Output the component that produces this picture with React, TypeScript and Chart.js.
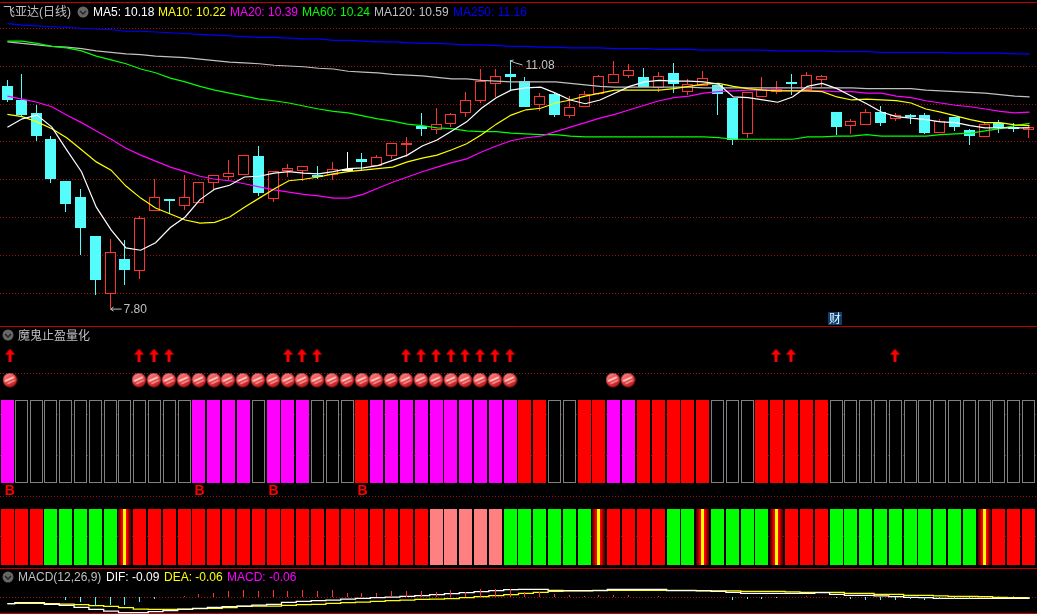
import React, { useEffect, useRef } from "react";
import { Chart, registerables } from "chart.js";

Chart.register(...registerables);

const labels: string[] = Array.from({ length: 70 }, (_, i) => String(i + 1));

const opens = [10.73,10.55,10.38,10.03,9.48,9.27,8.75,7.98,8.44,8.28,9.08,9.24,9.15,9.19,9.45,9.53,9.56,9.81,9.24,9.61,9.61,9.56,9.56,9.64,9.77,9.68,9.81,9.95,10.21,10.15,10.23,10.38,10.54,10.76,10.89,10.80,10.48,10.63,10.34,10.46,10.63,10.77,10.87,10.85,10.71,10.91,10.66,10.73,10.75,10.58,10.10,10.59,10.66,10.79,10.68,10.81,10.39,10.21,10.22,10.39,10.30,10.35,10.35,10.11,10.33,10.15,10.06,10.25,10.19,10.15];
const closes = [10.55,10.35,10.07,9.50,9.17,8.86,8.17,8.54,8.30,8.99,9.27,9.23,9.27,9.46,9.56,9.58,9.82,9.32,9.61,9.65,9.68,9.54,9.64,9.64,9.73,9.79,9.98,9.98,10.17,10.23,10.36,10.55,10.80,10.87,10.85,10.46,10.60,10.35,10.46,10.63,10.87,10.89,10.95,10.72,10.87,10.76,10.76,10.84,10.63,10.02,10.66,10.70,10.70,10.77,10.88,10.87,10.19,10.27,10.39,10.25,10.35,10.34,10.11,10.27,10.19,10.07,10.23,10.18,10.18,10.19];
const highs = [10.81,10.89,10.48,10.07,9.48,9.37,8.75,8.71,8.70,9.01,9.50,9.24,9.56,9.46,9.56,9.75,9.82,9.94,9.61,9.70,9.68,9.68,9.73,9.86,9.85,9.82,9.98,10.06,10.38,10.44,10.38,10.66,10.96,10.96,11.08,10.85,10.64,10.66,10.60,10.67,10.88,11.07,11.03,10.97,10.92,11.04,10.83,10.93,10.75,10.58,10.66,10.85,10.80,10.89,10.92,10.88,10.39,10.30,10.43,10.47,10.38,10.36,10.38,10.30,10.33,10.17,10.26,10.29,10.25,10.22];
const lows = [10.52,10.34,10.00,9.45,9.07,8.50,7.97,7.80,8.10,8.18,9.08,9.04,9.09,9.19,9.36,9.49,9.56,9.28,9.20,9.53,9.48,9.50,9.49,9.62,9.62,9.68,9.77,9.79,10.07,10.10,10.19,10.33,10.51,10.59,10.67,10.46,10.40,10.33,10.31,10.46,10.62,10.77,10.84,10.72,10.66,10.64,10.62,10.73,10.35,9.95,10.05,10.59,10.63,10.62,10.68,10.72,10.09,10.10,10.22,10.21,10.27,10.23,10.10,10.11,10.14,9.95,10.06,10.11,10.13,10.05];

const ma5 = [10.19,10.30,10.35,10.19,9.89,9.60,9.13,8.83,8.59,8.56,8.66,8.86,9.00,9.23,9.37,9.42,9.53,9.54,9.58,9.60,9.58,9.57,9.60,9.64,9.65,9.68,9.75,9.82,9.94,10.02,10.14,10.26,10.44,10.58,10.68,10.71,10.72,10.64,10.55,10.50,10.55,10.64,10.73,10.79,10.81,10.80,10.80,10.79,10.76,10.59,10.58,10.55,10.52,10.59,10.73,10.77,10.70,10.60,10.50,10.39,10.33,10.31,10.29,10.26,10.25,10.21,10.18,10.18,10.18,10.18];
const ma10 = [10.36,10.33,10.26,10.17,10.05,9.89,9.73,9.62,9.41,9.25,9.12,9.04,8.96,8.92,8.93,9.00,9.13,9.25,9.37,9.48,9.50,9.53,9.57,9.60,9.62,9.64,9.66,9.73,9.78,9.82,9.89,9.97,10.09,10.23,10.35,10.42,10.44,10.51,10.55,10.60,10.64,10.68,10.68,10.68,10.68,10.70,10.73,10.76,10.77,10.73,10.70,10.68,10.67,10.67,10.67,10.66,10.59,10.55,10.56,10.55,10.54,10.51,10.43,10.39,10.34,10.29,10.25,10.25,10.22,10.21];
const ma20 = [10.60,10.56,10.52,10.46,10.35,10.25,10.14,10.03,9.91,9.82,9.74,9.66,9.60,9.54,9.50,9.48,9.44,9.40,9.36,9.33,9.30,9.28,9.25,9.25,9.30,9.38,9.46,9.53,9.60,9.66,9.72,9.77,9.86,9.94,10.01,10.05,10.07,10.13,10.19,10.25,10.31,10.36,10.42,10.48,10.54,10.58,10.60,10.64,10.66,10.67,10.68,10.68,10.68,10.67,10.67,10.67,10.66,10.66,10.64,10.64,10.60,10.58,10.54,10.51,10.48,10.46,10.43,10.40,10.38,10.39];
const ma60 = [11.33,11.33,11.30,11.26,11.24,11.20,11.13,11.08,11.03,10.96,10.91,10.84,10.79,10.73,10.68,10.64,10.60,10.56,10.54,10.51,10.47,10.43,10.40,10.38,10.34,10.30,10.27,10.23,10.21,10.18,10.17,10.14,10.13,10.13,10.11,10.10,10.09,10.09,10.07,10.06,10.06,10.06,10.06,10.06,10.06,10.06,10.06,10.06,10.05,10.03,10.03,10.03,10.03,10.03,10.06,10.06,10.07,10.07,10.09,10.07,10.07,10.07,10.07,10.09,10.10,10.11,10.14,10.17,10.21,10.24];
const ma120 = [11.32,11.30,11.28,11.26,11.25,11.23,11.20,11.18,11.16,11.15,11.13,11.12,11.11,11.09,11.07,11.05,11.04,11.03,11.01,11.00,10.99,10.97,10.96,10.93,10.92,10.91,10.89,10.88,10.87,10.85,10.83,10.83,10.81,10.80,10.79,10.79,10.79,10.79,10.77,10.75,10.73,10.72,10.72,10.72,10.72,10.72,10.72,10.71,10.71,10.71,10.71,10.71,10.71,10.71,10.71,10.71,10.71,10.71,10.70,10.70,10.70,10.70,10.68,10.67,10.66,10.65,10.64,10.62,10.60,10.59];
const ma250 = [11.56,11.54,11.53,11.52,11.51,11.50,11.49,11.48,11.46,11.46,11.45,11.44,11.43,11.42,11.41,11.40,11.39,11.38,11.38,11.37,11.36,11.36,11.34,11.34,11.33,11.32,11.32,11.31,11.30,11.30,11.29,11.28,11.28,11.27,11.26,11.26,11.25,11.25,11.24,11.24,11.24,11.23,11.23,11.23,11.22,11.22,11.22,11.21,11.21,11.21,11.21,11.21,11.20,11.20,11.20,11.20,11.19,11.19,11.19,11.18,11.18,11.18,11.18,11.18,11.17,11.17,11.17,11.17,11.16,11.16];

const dif = [-0.36,-0.31,-0.31,-0.39,-0.44,-0.54,-0.64,-0.73,-0.81,-0.81,-0.76,-0.71,-0.64,-0.59,-0.54,-0.51,-0.48,-0.43,-0.39,-0.29,-0.24,-0.21,-0.18,-0.13,-0.09,-0.06,-0.03,0.01,0.04,0.09,0.14,0.19,0.24,0.29,0.34,0.36,0.36,0.31,0.29,0.29,0.29,0.36,0.36,0.36,0.36,0.29,0.29,0.29,0.26,0.21,0.16,0.16,0.16,0.16,0.16,0.19,0.11,0.06,0.06,0.03,-0.01,-0.04,-0.06,-0.09,-0.09,-0.09,-0.09,-0.09,-0.09,-0.09];
const dea = [-0.36,-0.34,-0.34,-0.36,-0.38,-0.41,-0.46,-0.49,-0.56,-0.63,-0.64,-0.64,-0.63,-0.61,-0.59,-0.56,-0.49,-0.48,-0.48,-0.44,-0.41,-0.39,-0.34,-0.31,-0.28,-0.24,-0.21,-0.18,-0.14,-0.13,-0.11,-0.06,-0.01,0.04,0.09,0.16,0.21,0.26,0.28,0.28,0.31,0.31,0.31,0.31,0.31,0.31,0.31,0.28,0.28,0.28,0.26,0.26,0.26,0.23,0.21,0.21,0.21,0.16,0.16,0.11,0.11,0.06,0.06,0.03,0.01,0.01,-0.01,-0.04,-0.06,-0.06];
const macd = [0,0,0,-0.03,-0.17,-0.28,-0.45,-0.43,-0.43,-0.28,-0.13,0,0.02,0.12,0.19,0.27,0.33,0.26,0.33,0.29,0.33,0.28,0.33,0.2,0.2,0.2,0.27,0.27,0.29,0.24,0.33,0.24,0.36,0.36,0.36,0.24,0.24,0.12,0.07,0.02,0.07,0.07,0.07,0,0.02,0,0,0,0,-0.18,-0.13,-0.12,-0.08,-0.04,0.02,0,-0.08,-0.12,-0.17,-0.17,-0.17,-0.1,-0.17,-0.1,-0.12,-0.1,0,0.02,0.01,-0.06];

const stateRowA = ["m","o","o","o","o","o","o","o","o","o","o","o","o","m","m","m","m","o","m","m","m","o","o","o","r","m","m","m","m","m","m","m","m","m","m","r","r","o","o","r","r","m","m","r","r","r","r","r","o","o","o","r","r","r","r","r","o","o","o","o","o","o","o","o","o","o","o","o","o","o"];
const stateRowB = ["r","r","r","g","g","g","g","g","x","r","r","r","r","r","r","r","r","r","r","r","r","r","r","r","r","r","r","r","r","p","p","p","p","p","g","g","g","g","g","g","x","r","r","r","r","g","g","x","g","g","g","g","x","r","r","r","g","g","g","g","g","g","g","g","g","g","x","r","r","r"];
const ballDays = [0,9,10,11,12,13,14,15,16,17,18,19,20,21,22,23,24,25,26,27,28,29,30,31,32,33,34,41,42];
const arrowDays = [0,9,10,11,19,20,21,27,28,29,30,31,32,33,34,52,53,60];
const buyDays = [0,13,18,24];
const priceGrid = [11.5,11,10.5,10,9.5,9,8.5,8];
const stripeGrid = [1.33,0.83,0.34,-0.157,-0.64];

const fullRow: number[] = labels.map(() => 1);
const RED = "#ff3232", CYAN = "#54fcfc";
const stateColor: Record<string, string> = { m: "#ff00ff", r: "#ff0000", g: "#00ff00", p: "#ff8080", o: "#000000" };

const legend1: [string, string][] = [["MA5: 10.18", "#ffffff"], ["MA10: 10.22", "#ffff00"], ["MA20: 10.39", "#ff00ff"], ["MA60: 10.24", "#00ff00"], ["MA120: 10.59", "#c0c0c0"], ["MA250: 11.16", "#0000ff"]];
const legend1X = [93, 158, 230, 302, 374, 453];
const legend3: [string, string][] = [["DIF: -0.09", "#ffffff"], ["DEA: -0.06", "#ffff00"], ["MACD: -0.06", "#ff00ff"]];
const legend3X = [106, 164, 227];

function makeBall(): HTMLCanvasElement {
  const c = document.createElement("canvas");
  c.width = 15; c.height = 15;
  const g = c.getContext("2d")!;
  const grad = g.createLinearGradient(3, 1, 11, 14);
  grad.addColorStop(0, "#f89090");
  grad.addColorStop(0.45, "#f04444");
  grad.addColorStop(1, "#b81a1a");
  g.fillStyle = grad;
  g.beginPath(); g.arc(7.5, 7.5, 7, 0, Math.PI * 2); g.fill();
  g.save();
  g.beginPath(); g.arc(7.5, 7.5, 7, 0, Math.PI * 2); g.clip();
  g.strokeStyle = "rgba(255,240,240,0.95)"; g.lineWidth = 1.5;
  g.beginPath(); g.moveTo(2.5, 8.5); g.lineTo(11.5, 4.5); g.stroke();
  g.strokeStyle = "rgba(255,220,220,0.85)"; g.lineWidth = 1.1;
  g.beginPath(); g.moveTo(5, 11); g.lineTo(12.5, 7.5); g.stroke();
  g.restore();
  return c;
}

function makeArrow(): HTMLCanvasElement {
  const c = document.createElement("canvas");
  c.width = 11; c.height = 13;
  const g = c.getContext("2d")!;
  g.fillStyle = "#ff0000";
  g.beginPath(); g.moveTo(5.5, 0); g.lineTo(10.5, 6); g.lineTo(0.5, 6); g.closePath(); g.fill();
  g.fillRect(4, 5, 3, 8);
  return c;
}

function snap(x: number) { return Math.max(Math.floor(x - 7), 1) + 6.5; }

const snapPlugin = {
  id: "snap",
  beforeDatasetsDraw(chart: any) {
    chart.data.datasets.forEach((ds: any, i: number) => {
      const meta = chart.getDatasetMeta(i);
      if (ds.marker) {
        meta.data.forEach((el: any, k: number) => { el.x = k === 0 ? 10 : Math.round(chart.scales.x.getPixelForValue(k) - 1.3); });
        return;
      }
      if (ds.type !== "bar") return;
      meta.data.forEach((el: any, k: number) => {
        el.x = snap(chart.scales.x.getPixelForValue(k));
        el.y = Math.round(el.y);
        el.base = Math.round(el.base);
        if (ds.minBody && Math.abs(el.base - el.y) < 2) el.base = el.y + 2;
      });
    });
  },
};

const backdropPlugin = {
  id: "backdrop",
  beforeDatasetsDraw(chart: any) {
    const { ctx, scales } = chart;
    const W = chart.width;
    ctx.save();
    ctx.strokeStyle = "#a01010";
    ctx.lineWidth = 1;
    ctx.setLineDash([1, 2]);
    const dotted = (y: number) => {
      const py = Math.round(y) + 0.5;
      ctx.beginPath(); ctx.moveTo(0, py); ctx.lineTo(W, py); ctx.stroke();
    };
    priceGrid.forEach((v) => dotted(scales.yPrice.getPixelForValue(v)));
    stripeGrid.forEach((v) => dotted(scales.yStripeA.getPixelForValue(v)));
    dotted(scales.yMacd.getPixelForValue(0));
    ctx.setLineDash([]);
    ctx.strokeStyle = "#c00000";
    [2, 326, 568, 613].forEach((y) => {
      ctx.beginPath(); ctx.moveTo(0, y + 0.5); ctx.lineTo(W, y + 0.5); ctx.stroke();
    });
    ctx.restore();
  },
  afterDatasetsDraw(chart: any) {
    const { ctx, scales } = chart;
    ctx.save();
    ctx.font = "12px 'Liberation Sans', Arial, sans-serif";
    ctx.textBaseline = "middle";
    ctx.fillStyle = "#c0c0c0";
    ctx.strokeStyle = "#c0c0c0";
    ctx.lineWidth = 1;
    const lowX = snap(scales.x.getPixelForValue(7));
    const lowY = scales.yPrice.getPixelForValue(Math.min(...lows));
    ctx.beginPath();
    ctx.moveTo(lowX, lowY + 1.5); ctx.lineTo(lowX + 11, lowY + 1.5);
    ctx.moveTo(lowX, lowY + 1.5); ctx.lineTo(lowX + 3, lowY - 0.5);
    ctx.moveTo(lowX, lowY + 1.5); ctx.lineTo(lowX + 3, lowY + 3.5);
    ctx.stroke();
    ctx.fillText("7.80", lowX + 13, lowY + 2);
    const hiX = snap(scales.x.getPixelForValue(34));
    const hiY = scales.yPrice.getPixelForValue(Math.max(...highs));
    ctx.beginPath();
    ctx.moveTo(hiX, hiY + 1); ctx.lineTo(hiX + 3, hiY);
    ctx.moveTo(hiX, hiY + 1); ctx.lineTo(hiX + 5, hiY + 3);
    ctx.lineTo(hiX + 12, hiY + 5);
    ctx.stroke();
    ctx.fillText("11.08", hiX + 15, hiY + 6);
    ctx.fillStyle = "#0a3f6e";
    ctx.fillRect(828, 312, 14, 13);
    ctx.fillStyle = "#e8f2ff";
    ctx.textAlign = "center";
    ctx.font = "12px 'Noto Sans CJK SC', sans-serif";
    ctx.fillText("财", 835, 318.5);
    ctx.fillStyle = "#ff0000";
    ctx.font = "bold 14px 'Liberation Sans', sans-serif";
    buyDays.forEach((d) => {
      ctx.fillText("B", scales.x.getPixelForValue(d) + (d === 0 ? 2.5 : -0.5), scales.yStripeA.getPixelForValue(-0.1));
    });
    [[83, 12], [8, 335], [8, 577]].forEach(([x, y]) => {
      ctx.fillStyle = "#666666";
      ctx.beginPath(); ctx.arc(x, y, 5.5, 0, Math.PI * 2); ctx.fill();
      ctx.strokeStyle = "#222222"; ctx.lineWidth = 1.4;
      ctx.beginPath(); ctx.moveTo(x - 3, y - 1); ctx.lineTo(x, y + 2); ctx.lineTo(x + 3, y - 1); ctx.stroke();
    });
    ctx.restore();
  },
};

const textStyle: React.CSSProperties = {
  position: "absolute",
  font: "12px 'Liberation Sans', Arial, 'Noto Sans CJK SC', sans-serif",
  lineHeight: "14px",
  whiteSpace: "nowrap",
};

export default function App() {
  const ref = useRef<HTMLCanvasElement>(null);
  useEffect(() => {
    document.body.style.margin = "0";
    document.body.style.background = "#000";
    document.body.style.overflow = "hidden";
    const ball = makeBall();
    const arrow = makeArrow();
    const lineDs = (data: number[], color: string, order: number) => ({
      type: "line", data, borderColor: color, borderWidth: 1.2, pointRadius: 0, tension: 0, yAxisID: "yPrice", order,
    });
    const chart = new Chart(ref.current!, {
      type: "bar",
      data: {
        labels,
        datasets: [
          lineDs(ma250, "#0000ff", 6), lineDs(ma120, "#c0c0c0", 5), lineDs(ma60, "#00ff00", 4),
          lineDs(ma20, "#ff00ff", 3), lineDs(ma10, "#ffff00", 2), lineDs(ma5, "#ffffff", 1),
          {
            type: "bar", grouped: false, order: 20, yAxisID: "yPrice", barThickness: 11, minBody: 1, inflateAmount: 0,
            data: labels.map((_, i) => [opens[i], closes[i]]),
            borderWidth: 1, borderSkipped: false,
            borderColor: labels.map((_, i) => closes[i] === opens[i] ? "#ffffff" : closes[i] > opens[i] ? RED : CYAN),
            backgroundColor: labels.map((_, i) => closes[i] === opens[i] ? "#ffffff" : closes[i] > opens[i] ? "#000000" : CYAN),
          },
          {
            type: "bar", grouped: false, order: 30, yAxisID: "yPrice", barThickness: 1, inflateAmount: 0,
            data: labels.map((_, i) => [lows[i], highs[i]]),
            backgroundColor: labels.map((_, i) => closes[i] === opens[i] ? "#ffffff" : closes[i] > opens[i] ? RED : CYAN),
          },
          {
            type: "bar", grouped: false, order: 40, yAxisID: "yStripeA", barThickness: 13, inflateAmount: 0,
            data: fullRow, borderWidth: stateRowA.map((s) => (s === "o" ? 1 : 0)), borderSkipped: false,
            borderColor: "#808080",
            backgroundColor: stateRowA.map((s) => stateColor[s]),
          },
          {
            type: "bar", grouped: false, order: 40, yAxisID: "yStripeB", barThickness: 13, inflateAmount: 0,
            data: fullRow,
            backgroundColor: (c: any) => {
              const s = stateRowB[c.dataIndex];
              if (s !== "x") return stateColor[s];
              const x = snap(c.chart.scales.x.getPixelForValue(c.dataIndex));
              const g = c.chart.ctx.createLinearGradient(x - 6.5, 0, x + 6.5, 0);
              [[0, "#500000"], [0.15, "#900000"], [0.3, "#ff0000"], [0.37, "#ff0000"], [0.38, "#ffff00"], [0.62, "#ffff00"], [0.63, "#ff0000"], [0.7, "#ff0000"], [0.85, "#900000"], [1, "#500000"]].forEach(([o, col]) => g.addColorStop(o as number, col as string));
              return g;
            },
          },
          {
            type: "line", order: 10, yAxisID: "yStripeA", showLine: false, pointStyle: ball, pointRadius: 7, marker: true,
            data: labels.map((_, i) => (ballDays.includes(i) ? 1.24 : null)),
          },
          {
            type: "line", order: 10, yAxisID: "yStripeA", showLine: false, pointStyle: arrow, pointRadius: 6, marker: true,
            data: labels.map((_, i) => (arrowDays.includes(i) ? 1.54 : null)),
          },
          { type: "line", order: 8, yAxisID: "yMacd", data: dea, borderColor: "#ffff00", borderWidth: 1.3, pointRadius: 0, stepped: "middle" },
          { type: "line", order: 7, yAxisID: "yMacd", data: dif, borderColor: "#ffffff", borderWidth: 1.3, pointRadius: 0, stepped: "middle" },
          {
            type: "bar", grouped: false, order: 0, yAxisID: "yMacd", barThickness: 1, inflateAmount: 0, data: macd,
            backgroundColor: macd.map((v) => (v >= 0 ? RED : CYAN)),
          },
        ],
      } as any,
      options: {
        animation: false,
        responsive: false,
        devicePixelRatio: 1,
        layout: { padding: 0, autoPadding: false },
        plugins: { legend: { display: false }, tooltip: { enabled: false } },
        events: [],
        scales: {
          x: { type: "category", offset: true, display: false },
          yPrice: { display: false, min: 3.742, max: 11.874 },
          yStripeA: { display: false, min: -1.578, max: 5.819 },
          yStripeB: { display: false, min: -0.875, max: 10.089 },
          yMacd: { display: false, min: -0.875, max: 29.825 },
        },
      } as any,
      plugins: [backdropPlugin, snapPlugin],
    });
    return () => chart.destroy();
  }, []);

  return (
    <div style={{ position: "absolute", left: 0, top: 0, width: 1037, height: 614, background: "#000", overflow: "hidden" }}>
      <canvas ref={ref} width={1037} height={614} style={{ display: "block" }} />
      <span style={{ ...textStyle, left: 3, top: 5, color: "#c0c0c0" }}>飞亚达(日线)</span>
      {legend1.map(([t, c], i) => (
        <span key={t} style={{ ...textStyle, left: legend1X[i], top: 5, color: c }}>{t}</span>
      ))}
      <span style={{ ...textStyle, left: 18, top: 329, color: "#c0c0c0" }}>魔鬼止盈量化</span>
      <span style={{ ...textStyle, left: 18, top: 570, color: "#c0c0c0" }}>MACD(12,26,9)</span>
      {legend3.map(([t, c], i) => (
        <span key={t} style={{ ...textStyle, left: legend3X[i], top: 570, color: c }}>{t}</span>
      ))}
    </div>
  );
}
